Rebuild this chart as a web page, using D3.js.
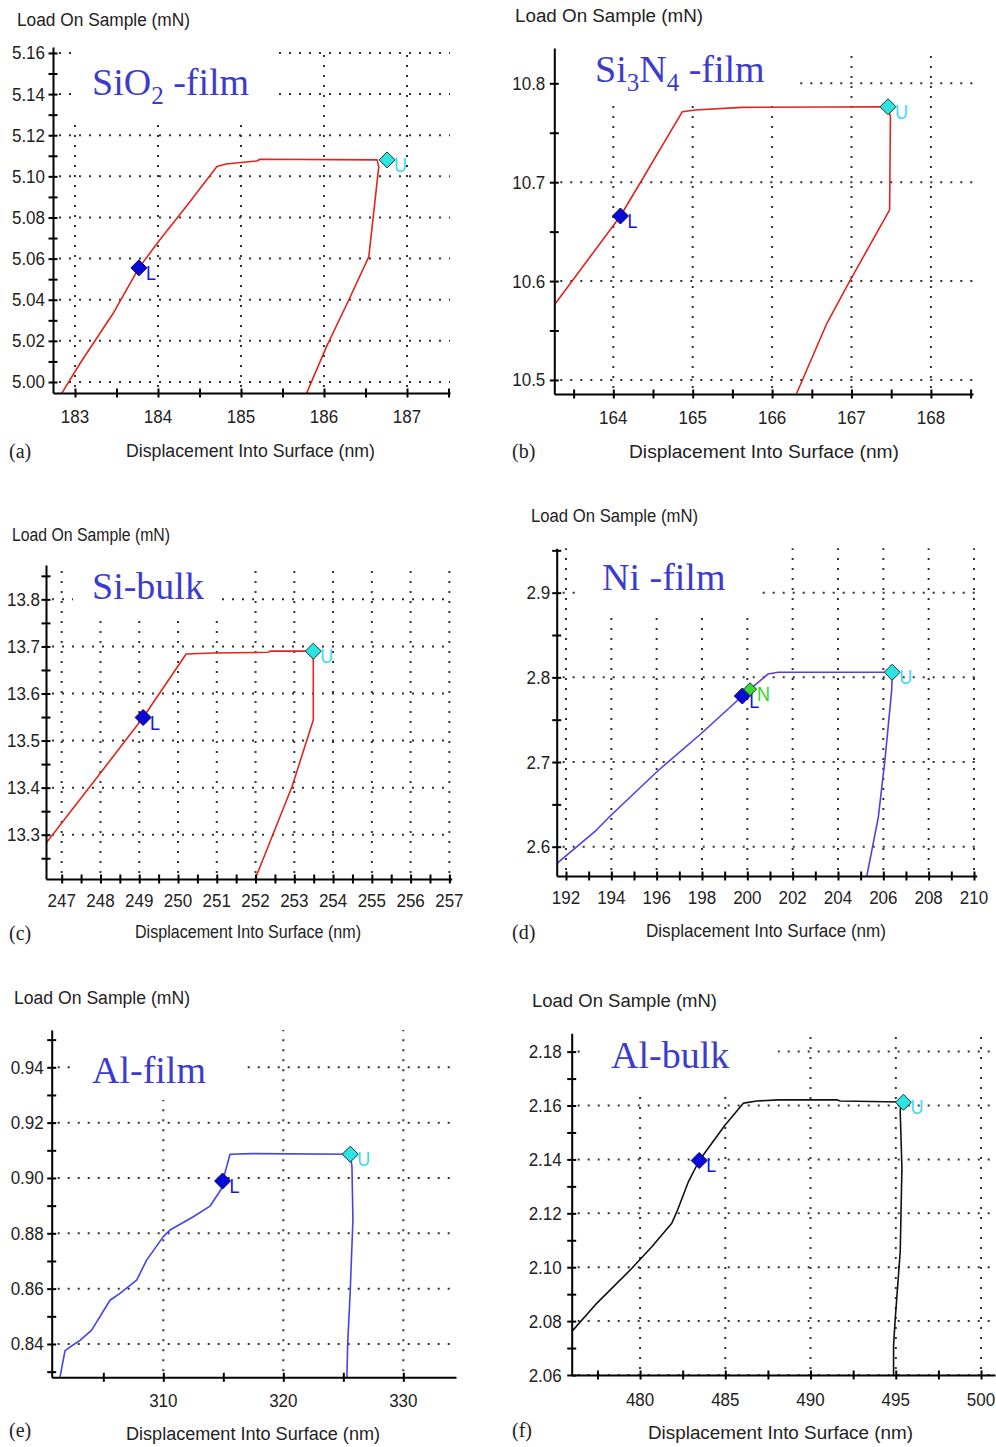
<!DOCTYPE html>
<html><head><meta charset="utf-8">
<script src="https://cdn.jsdelivr.net/npm/d3@7"></script>
<style>body{margin:0;background:#fff}svg{display:block}</style>
</head><body>
<svg id="chart" width="996" height="1447"></svg>
<script>
// ---------- DATA ----------
// (a) SiO2-film
const sio2Disp = [182.84, 183.06, 183.46, 183.77, 184.02, 184.34, 184.71, 184.82, 185.19, 185.23, 186.64, 186.66, 186.54, 186.30, 186.03, 185.79];
const sio2Load = [4.9945, 5.009, 5.0334, 5.0555, 5.069, 5.0853, 5.1048, 5.106, 5.1075, 5.1083, 5.108, 5.1047, 5.061, 5.040, 5.0172, 4.9945];
const sio2MarkLabel = ["L", "U"];
const sio2MarkDisp = [183.77, 186.76];
const sio2MarkLoad = [5.0555, 5.108];
const sio2XTicks = [183, 184, 185, 186, 187];
const sio2YTicks = [5.00, 5.02, 5.04, 5.06, 5.08, 5.10, 5.12, 5.14, 5.16];

// (b) Si3N4-film
const si3n4Disp = [163.257, 164.09, 164.36, 164.87, 165.03, 165.62, 167.46, 167.49, 167.48, 166.96, 166.69, 166.31];
const si3n4Load = [10.5758, 10.6658, 10.7022, 10.7713, 10.773, 10.7757, 10.7763, 10.766, 10.6719, 10.5975, 10.5573, 10.4865];
const si3n4MarkLabel = ["L", "U"];
const si3n4MarkDisp = [164.09, 167.46];
const si3n4MarkLoad = [10.6658, 10.7763];
const si3n4XTicks = [164, 165, 166, 167, 168];
const si3n4YTicks = [10.5, 10.6, 10.7, 10.8];

// (c) Si-bulk
const siDisp = [246.595, 247.99, 249.10, 249.52, 250.21, 250.91, 252.33, 252.37, 253.49, 253.49, 253.49, 252.94, 251.99];
const siLoad = [13.2817, 13.43, 13.549, 13.60, 13.684, 13.686, 13.6875, 13.690, 13.690, 13.682, 13.5435, 13.402, 13.206];
const siMarkLabel = ["L", "U"];
const siMarkDisp = [249.10, 253.49];
const siMarkLoad = [13.549, 13.690];
const siXTicks = [247, 248, 249, 250, 251, 252, 253, 254, 255, 256, 257];
const siYTicks = [13.3, 13.4, 13.5, 13.6, 13.7, 13.8];

// (d) Ni-film
const niDisp = [191.59, 193.28, 193.94, 196.07, 197.98, 199.78, 200.12, 200.92, 201.36, 206.40, 206.37, 206.07, 205.78, 205.27];
const niLoad = [2.580, 2.618, 2.636, 2.690, 2.734, 2.778, 2.786, 2.804, 2.806, 2.806, 2.785, 2.702, 2.635, 2.565];
const niMarkLabel = ["L", "N", "U"];
const niMarkDisp = [199.78, 200.12, 206.39];
const niMarkLoad = [2.778, 2.786, 2.806];
const niXTicks = [192, 194, 196, 198, 200, 202, 204, 206, 208, 210];
const niYTicks = [2.6, 2.7, 2.8, 2.9];

// (e) Al-film
const alFilmDisp = [301.39, 301.81, 302.23, 303.06, 304.03, 305.56, 306.39, 307.78, 308.61, 310.0, 310.56, 312.5, 313.89, 314.86, 314.94, 315.28, 315.56, 317.36, 325.58, 325.72, 325.80, 325.58, 325.36, 325.30];
const alFilmLoad = [0.828, 0.8376, 0.8389, 0.8413, 0.845, 0.8558, 0.8583, 0.8631, 0.8703, 0.8788, 0.8812, 0.886, 0.8898, 0.8962, 0.8989, 0.9041, 0.9086, 0.9088, 0.9086, 0.9041, 0.8848, 0.8595, 0.8396, 0.828];
const alFilmMarkLabel = ["L", "U"];
const alFilmMarkDisp = [314.94, 325.58];
const alFilmMarkLoad = [0.8989, 0.9086];
const alFilmXTicks = [310, 320, 330];
const alFilmYTicks = [0.84, 0.86, 0.88, 0.90, 0.92, 0.94];

// (f) Al-bulk
const alBulkDisp = [475.99, 477.37, 479.52, 480.69, 481.86, 482.16, 482.84, 483.47, 484.99, 486.07, 486.85, 488.12, 491.54, 491.74, 495.30, 495.26, 495.36, 495.26, 494.97, 494.87, 494.87];
const alBulkLoad = [2.0761, 2.086, 2.0996, 2.1076, 2.1163, 2.1206, 2.1318, 2.1396, 2.1528, 2.1609, 2.1617, 2.1621, 2.1621, 2.1617, 2.1613, 2.1577, 2.1367, 2.1058, 2.081, 2.0711, 2.06];
const alBulkMarkLabel = ["L", "U"];
const alBulkMarkDisp = [483.47, 495.45];
const alBulkMarkLoad = [2.1396, 2.1612];
const alBulkXTicks = [480, 485, 490, 495, 500];
const alBulkYTicks = [2.06, 2.08, 2.10, 2.12, 2.14, 2.16, 2.18];

const yAxisTitle = "Load On Sample (mN)";
const xAxisTitle = "Displacement Into Surface (nm)";

// ---------- LAYOUT ----------
const panels = [
  { disp: sio2Disp, load: sio2Load, mLab: sio2MarkLabel, mX: sio2MarkDisp, mY: sio2MarkLoad,
    xTicks: sio2XTicks, yTicks: sio2YTicks, xMinorStep: 1, xMinorOff: 0.5, yMinorStep: 0.02, yMinorOff: 0.01, yFmt: ".2f",
    xRange: [53, 450], xDomain: [182.735, 187.518], yRange: [393, 47], yDomain: [4.99465, 5.1629],
    color: "#e2231f", title: [["SiO", 0], ["2", 1], [" -film", 0]], titleX: 92, titleY: 95, box: [73, 47, 278, 118],
    yT: [17, 26, 173], xT: [126, 457, 249], tag: ["(a)", 9, 458], yGap: 8, xLabY: 423 },
  { disp: si3n4Disp, load: si3n4Load, mLab: si3n4MarkLabel, mX: si3n4MarkDisp, mY: si3n4MarkLoad,
    xTicks: si3n4XTicks, yTicks: si3n4YTicks, xMinorStep: 1, xMinorOff: 0.5, yMinorStep: 0.1, yMinorOff: 0.05, yFmt: ".1f",
    xRange: [554.3, 973], xDomain: [163.257, 168.53], yRange: [394, 48], yDomain: [10.4858, 10.8357],
    color: "#e2231f", title: [["Si", 0], ["3", 1], ["N", 0], ["4", 1], [" -film", 0]], titleX: 595, titleY: 82, box: [560, 48, 797, 105],
    yT: [515, 22, 188], xT: [629, 458, 270], tag: ["(b)", 512, 458], yGap: 9, xLabY: 424 },
  { disp: siDisp, load: siLoad, mLab: siMarkLabel, mX: siMarkDisp, mY: siMarkLoad,
    xTicks: siXTicks, yTicks: siYTicks, xMinorStep: 1, xMinorOff: 0.5, yMinorStep: 0.1, yMinorOff: 0.05, yFmt: ".1f",
    xRange: [46, 451.7], xDomain: [246.595, 257.06], yRange: [879, 565], yDomain: [13.2059, 13.873],
    color: "#e2231f", title: [["Si-bulk", 0]], titleX: 92, titleY: 599, box: [73, 565, 222, 614],
    yT: [12, 541, 158], xT: [135, 938, 226], tag: ["(c)", 9, 940], yGap: 6, xLabY: 907 },
  { disp: niDisp, load: niLoad, mLab: niMarkLabel, mX: niMarkDisp, mY: niMarkLoad,
    xTicks: niXTicks, yTicks: niYTicks, xMinorStep: 2, xMinorOff: 1, yMinorStep: 0.1, yMinorOff: 0.05, yFmt: ".1f",
    xRange: [556.7, 976.7], xDomain: [191.59, 210.12], yRange: [876, 548.3], yDomain: [2.5654, 2.9524],
    color: "#5a3ce4", title: [["Ni -film", 0]], titleX: 602, titleY: 590, box: [577, 548, 755, 610],
    yT: [531, 522, 167], xT: [646, 937, 240], tag: ["(d)", 512, 939], yGap: 6.5, xLabY: 904 },
  { disp: alFilmDisp, load: alFilmLoad, mLab: alFilmMarkLabel, mX: alFilmMarkDisp, mY: alFilmMarkLoad,
    xTicks: alFilmXTicks, yTicks: alFilmYTicks, xMinorStep: 10, xMinorOff: 5, yMinorStep: 0.02, yMinorOff: 0.01, yFmt: ".2f",
    xRange: [51.7, 456], xDomain: [300.7, 334.39], yRange: [1377.3, 1030], yDomain: [0.82796, 0.95348],
    color: "#4444e6", title: [["Al-film", 0]], titleX: 92, titleY: 1083, box: [72, 1030, 240, 1100],
    yT: [14, 1004, 176], xT: [126, 1440, 254], tag: ["(e)", 9, 1437], yGap: 8, xLabY: 1407 },
  { disp: alBulkDisp, load: alBulkLoad, mLab: alBulkMarkLabel, mX: alBulkMarkDisp, mY: alBulkMarkLoad,
    xTicks: alBulkXTicks, yTicks: alBulkYTicks, xMinorStep: 5, xMinorOff: 2.5, yMinorStep: 0.02, yMinorOff: 0.01, yFmt: ".2f",
    xRange: [571.7, 995], xDomain: [475.99, 500.82], yRange: [1375, 1033.3], yDomain: [2.06, 2.1868],
    color: "#111111", title: [["Al-bulk", 0]], titleX: 611, titleY: 1068, box: [585, 1033, 778, 1090],
    yT: [532, 1007, 185], xT: [648, 1439, 265], tag: ["(f)", 512, 1437], yGap: 10, xLabY: 1406 }
];

const markStyle = {
  L: { fill: "#0a0ad8", stroke: "#000060", text: "#1414e0", r: 8 },
  U: { fill: "#2fe3e3", stroke: "#0a3a3a", text: "#3fd8ef", r: 8 },
  N: { fill: "#3cd63c", stroke: "#0a400a", text: "#33d633", r: 6.5 }
};

const svg = d3.select("#chart");
svg.append("rect").attr("width", 996).attr("height", 1447).attr("fill", "#fff");
const sans = "'Liberation Sans', Arial, sans-serif";
const serif = "'Liberation Serif', 'Times New Roman', serif";
const STRETCH = 1.13;

panels.forEach((p, i) => {
  const g = svg.append("g");
  const x = d3.scaleLinear().domain(p.xDomain).range(p.xRange);
  const y = d3.scaleLinear().domain(p.yDomain).range(p.yRange);
  const inX = v => v >= p.xDomain[0] - 1e-9 && v <= p.xDomain[1] + 1e-9;
  const inY = v => v >= p.yDomain[0] - 1e-9 && v <= p.yDomain[1] + 1e-9;

  // dotted grid
  const grid = g.append("g").attr("stroke", "#333").attr("stroke-width", 2).attr("stroke-dasharray", "2,8");
  grid.selectAll("line.v").data(p.xTicks).join("line").attr("class", "v")
    .attr("x1", d => x(d)).attr("x2", d => x(d)).attr("y1", p.yRange[0] - 6).attr("y2", p.yRange[1]);
  grid.selectAll("line.h").data(p.yTicks).join("line").attr("class", "h")
    .attr("x1", p.xRange[0] + 6).attr("x2", p.xRange[1]).attr("y1", d => y(d)).attr("y2", d => y(d));

  // white box behind the title
  const b = p.box;
  g.append("rect").attr("x", b[0]).attr("y", b[1]).attr("width", b[2] - b[0]).attr("height", b[3] - b[1]).attr("fill", "#fff");
  const t = g.append("text").attr("x", p.titleX).attr("y", p.titleY)
    .attr("font-family", serif).attr("font-size", 38).attr("fill", "#3b3bcc");
  let sub = false;
  p.title.forEach(([s, isSub]) => {
    const ts = t.append("tspan").text(s);
    if (isSub && !sub) { ts.attr("dy", 9).attr("font-size", 25); sub = true; }
    else if (isSub) { ts.attr("font-size", 25); }
    else if (sub) { ts.attr("dy", -9); sub = false; }
  });

  // data curve
  const clipId = "clip" + i;
  svg.append("clipPath").attr("id", clipId).append("rect")
    .attr("x", p.xRange[0]).attr("y", p.yRange[1]).attr("width", p.xRange[1] - p.xRange[0]).attr("height", p.yRange[0] - p.yRange[1]);
  const pts = p.disp.map((d, k) => [d, p.load[k]]);
  g.append("path").datum(pts).attr("clip-path", `url(#${clipId})`)
    .attr("d", d3.line().x(d => x(d[0])).y(d => y(d[1])))
    .attr("fill", "none").attr("stroke", p.color).attr("stroke-width", 1.6).attr("stroke-linejoin", "round");

  // axes (major + minor ticks crossing the axis line)
  const xm = []; for (let v = Math.ceil((p.xDomain[0] - p.xMinorOff) / p.xMinorStep) * p.xMinorStep + p.xMinorOff; v <= p.xDomain[1]; v += p.xMinorStep) xm.push(+v.toFixed(4));
  const ym = []; for (let v = Math.ceil((p.yDomain[0] - p.yMinorOff) / p.yMinorStep) * p.yMinorStep + p.yMinorOff; v <= p.yDomain[1] + 1e-9; v += p.yMinorStep) ym.push(+v.toFixed(4));
  const xAll = p.xTicks.concat(xm.filter(inX));
  const yAll = p.yTicks.concat(ym.filter(inY));

  const ax = g.append("g").attr("transform", `translate(0,${p.yRange[0]})`)
    .call(d3.axisBottom(x).tickValues(xAll).tickSize(4.5).tickSizeOuter(0).tickFormat(""));
  ax.selectAll(".tick line").attr("y1", -4.5).attr("stroke-width", 2);
  ax.select(".domain").attr("stroke-width", 2);
  const ay = g.append("g").attr("transform", `translate(${p.xRange[0]},0)`)
    .call(d3.axisLeft(y).tickValues(yAll).tickSize(4.5).tickSizeOuter(0).tickFormat(""));
  ay.selectAll(".tick line").attr("x1", 4.5).attr("stroke-width", 2);
  ay.select(".domain").attr("stroke-width", 2);
  g.selectAll(".domain").attr("stroke", "#000");
  g.selectAll(".tick line").attr("stroke", "#000");

  const tall = (sel, tx, ty) => sel.attr("transform", (d, k) => `translate(${tx(d, k)},${ty(d, k)}) scale(1,${STRETCH})`);

  // tick labels
  tall(g.append("g").selectAll("text").data(p.xTicks).join("text")
    .attr("text-anchor", "middle")
    .attr("font-family", sans).attr("font-size", 17).attr("fill", "#222").text(d => d3.format("d")(d)),
    d => x(d), () => p.xLabY);
  tall(g.append("g").selectAll("text").data(p.yTicks).join("text")
    .attr("text-anchor", "end")
    .attr("font-family", sans).attr("font-size", 17).attr("fill", "#222").text(d => d3.format(p.yFmt)(d)),
    () => p.xRange[0] - p.yGap, d => y(d) + 6.5);

  // axis titles & tag
  g.append("text").attr("transform", `translate(${p.yT[0]},${p.yT[1]}) scale(1,${STRETCH})`)
    .attr("textLength", p.yT[2]).attr("lengthAdjust", "spacingAndGlyphs")
    .attr("font-family", sans).attr("font-size", 17).attr("fill", "#222").text(yAxisTitle);
  g.append("text").attr("transform", `translate(${p.xT[0]},${p.xT[1]}) scale(1,${STRETCH})`)
    .attr("textLength", p.xT[2]).attr("lengthAdjust", "spacingAndGlyphs")
    .attr("font-family", sans).attr("font-size", 17).attr("fill", "#222").text(xAxisTitle);
  g.append("text").attr("x", p.tag[1]).attr("y", p.tag[2]).attr("font-family", serif).attr("font-size", 20)
    .attr("fill", "#222").text(p.tag[0]);

  // markers
  const marks = p.mLab.map((l, k) => ({ l, x: p.mX[k], y: p.mY[k] }));
  marks.forEach(m => {
    const s = markStyle[m.l];
    const cx = x(m.x), cy = y(m.y), r = s.r;
    g.append("path").attr("d", `M${cx},${cy - r}L${cx + r},${cy}L${cx},${cy + r}L${cx - r},${cy}Z`)
      .attr("fill", s.fill).attr("stroke", s.stroke).attr("stroke-width", 1);
    g.append("text").attr("transform", `translate(${cx + 7},${cy + 12}) scale(1,1.1)`)
      .attr("font-family", sans).attr("font-size", 18)
      .attr("fill", s.text).text(m.l);
  });
});
</script>
</body></html>
